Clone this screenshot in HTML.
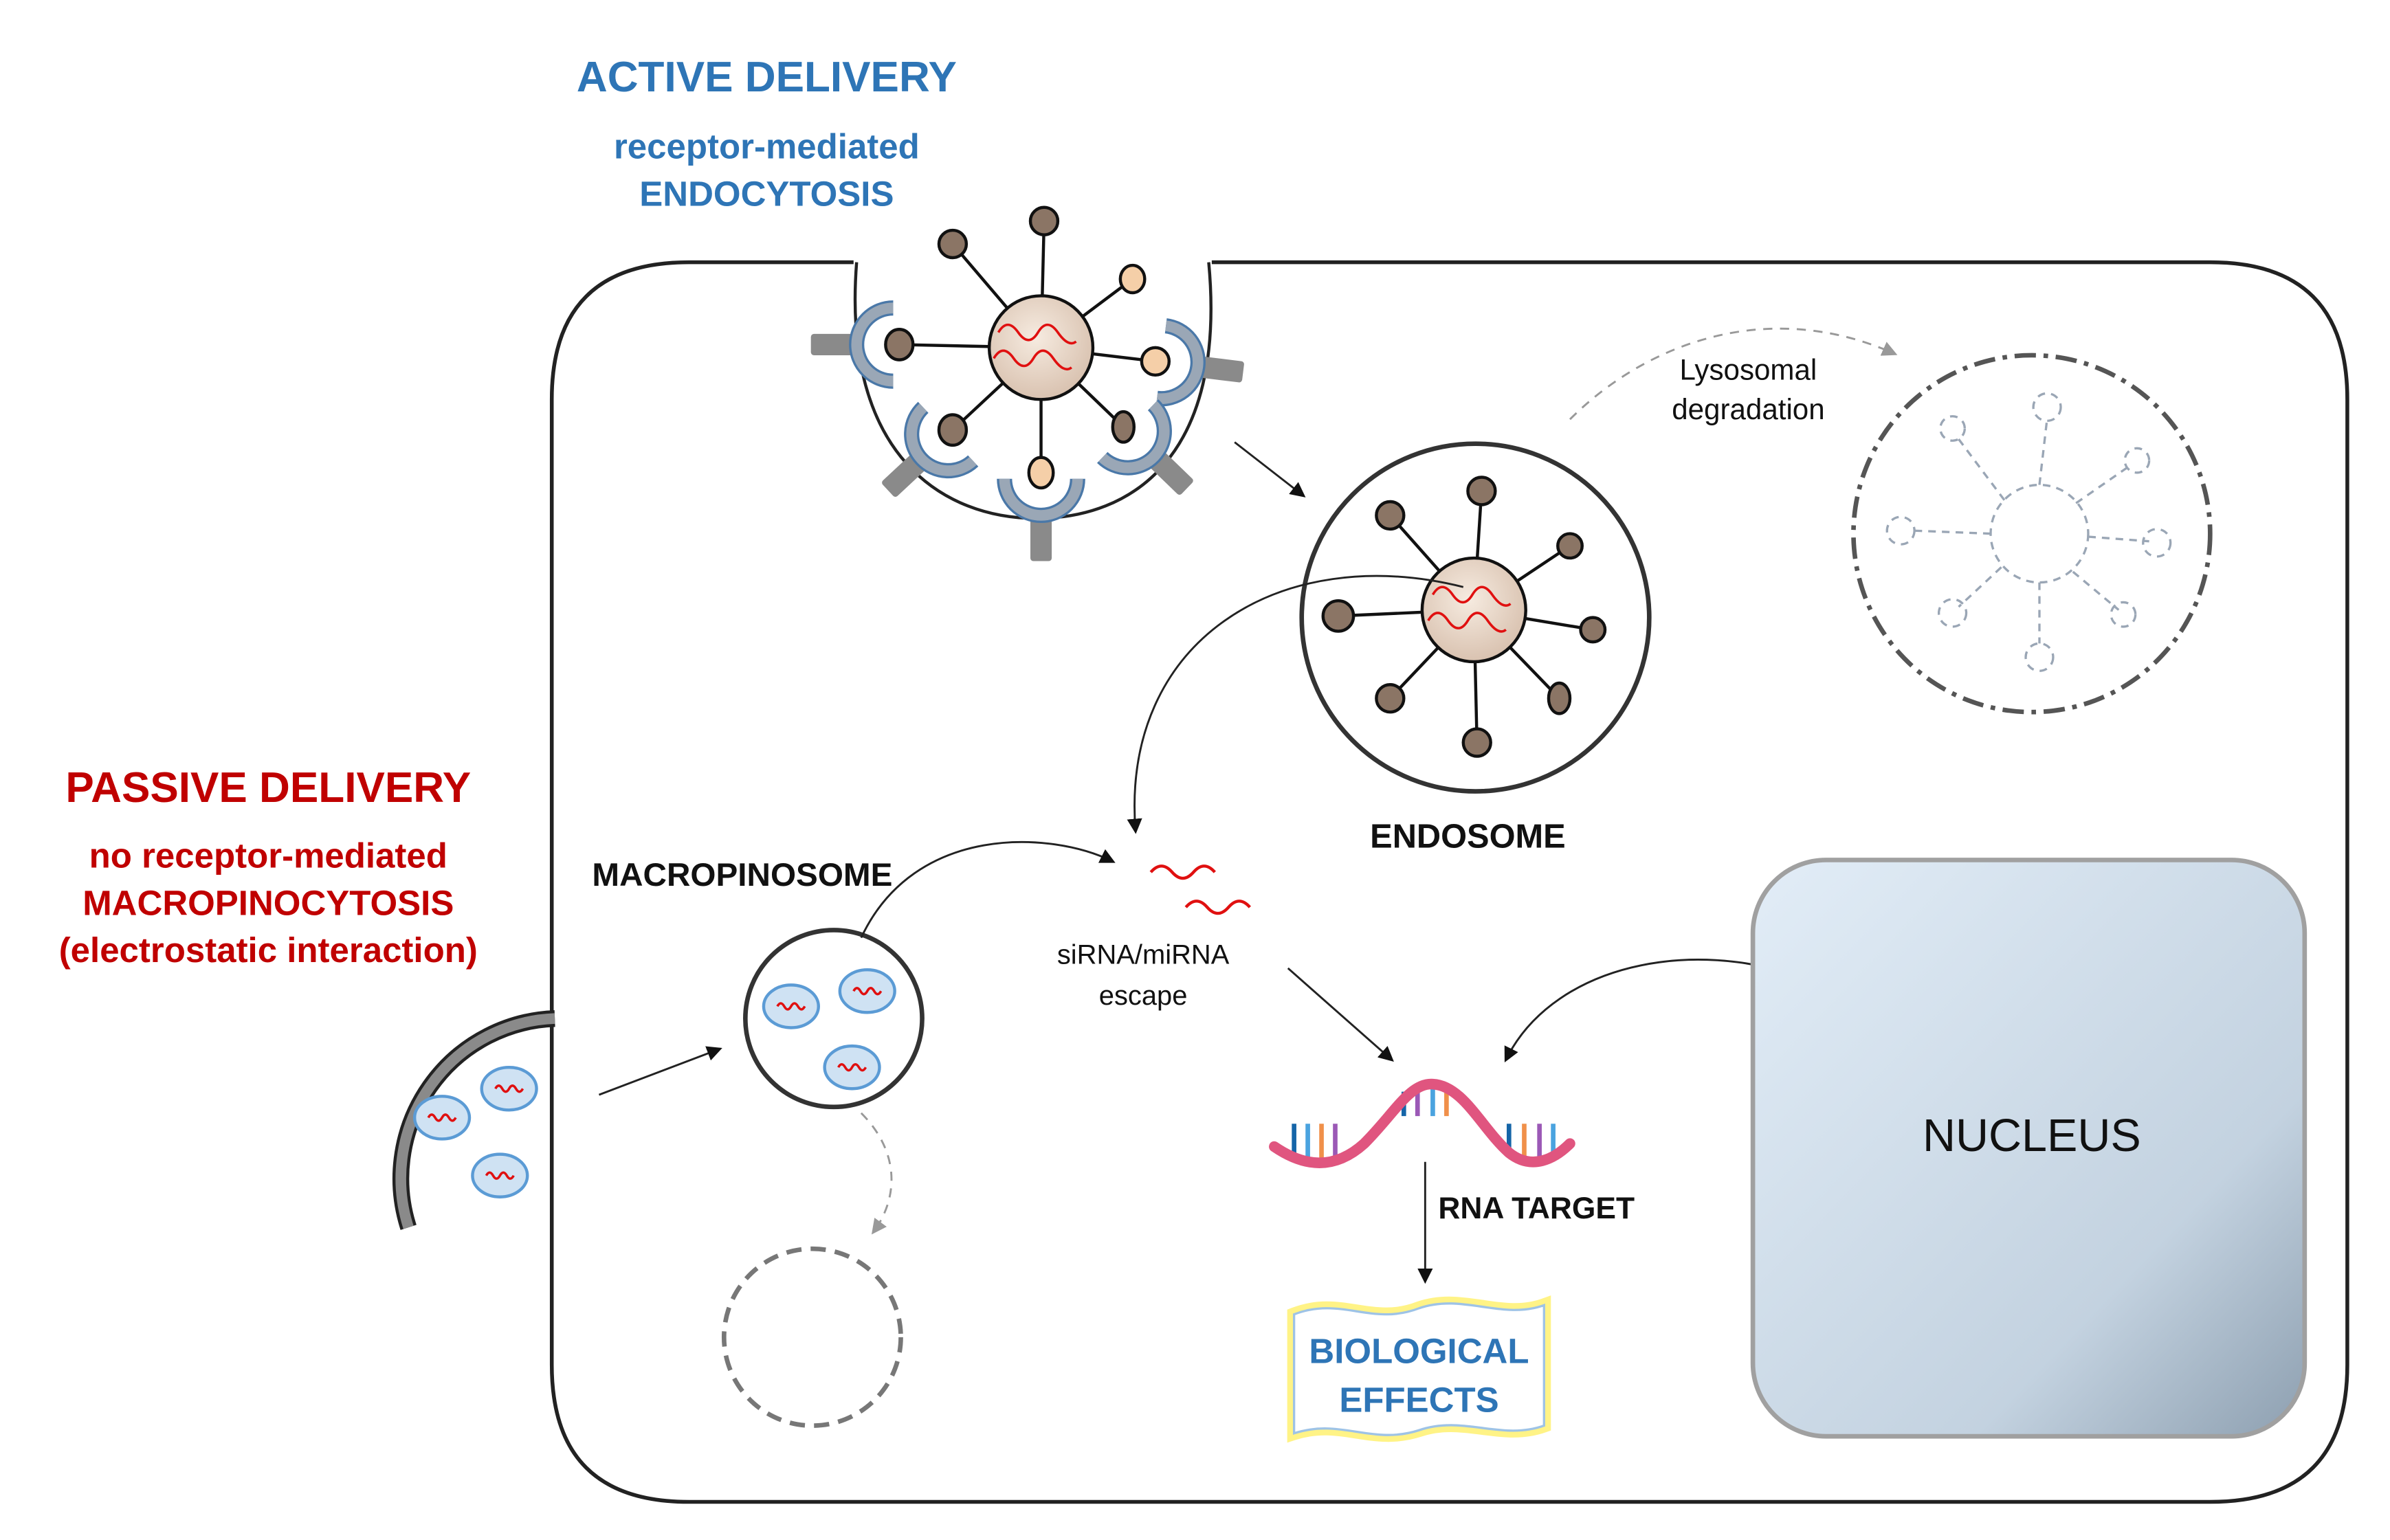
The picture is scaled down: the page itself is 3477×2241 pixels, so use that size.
<!DOCTYPE html>
<html><head><meta charset="utf-8"><style>
html,body{margin:0;padding:0;background:#fff;}
svg{display:block;}
text{font-family:"Liberation Sans",Arial,sans-serif;}
</style></head><body>
<svg width="3477" height="2241" viewBox="0 0 1568 1010" preserveAspectRatio="none" xmlns="http://www.w3.org/2000/svg">
<defs>
<radialGradient id="np" cx="45%" cy="40%" r="60%"><stop offset="0" stop-color="#f6ebe0"/><stop offset="1" stop-color="#d9c2b0"/></radialGradient>
<linearGradient id="nuc" x1="0" y1="0" x2="1" y2="1"><stop offset="0" stop-color="#e2edf7"/><stop offset="0.7" stop-color="#c3d2e0"/><stop offset="1" stop-color="#8d9fb0"/></linearGradient>
<marker id="ah" markerWidth="10" markerHeight="10" refX="8" refY="5" orient="auto" markerUnits="userSpaceOnUse"><path d="M0,0 L10,5 L0,10 z" fill="#111"/></marker>
<marker id="ahg" markerWidth="10" markerHeight="10" refX="8" refY="5" orient="auto" markerUnits="userSpaceOnUse"><path d="M0,0 L10,5 L0,10 z" fill="#999"/></marker>
<g id="rv"><path d="M-9,0 q2.2,-4 4.5,0 t4.5,0 t4.5,0 t4.5,0" fill="none" stroke="#e01010" stroke-width="1.6"/></g>
<g id="ves"><ellipse cx="0" cy="0" rx="18" ry="14" fill="#cfe2f3" stroke="#5b9bd5" stroke-width="2"/><use href="#rv"/></g>
<g id="rcp">
<rect x="-58" y="-7" width="34" height="14" rx="2" fill="#8a8a8a"/>
<path d="M-4,-24 A24,24 0 0 0 -4,24" fill="none" stroke="#4a78a8" stroke-width="10"/>
<path d="M-4,-24 A24,24 0 0 0 -4,24" fill="none" stroke="#9aa7b6" stroke-width="7"/>
</g>
</defs>

<!-- cell membrane -->
<path d="M560,172 L452,172 Q362,172 362,262 L362,895 Q362,985 452,985 L1450,985 Q1540,985 1540,895 L1540,262 Q1540,172 1450,172 L795,172" fill="none" stroke="#222" stroke-width="2.5"/>
<path d="M562,172 C552,300 620,340 680,340 C742,340 805,300 793,172" fill="none" stroke="#222" stroke-width="2"/>

<text x="503" y="60" text-anchor="middle" font-size="28" font-weight="bold" fill="#2e75b6">ACTIVE DELIVERY</text>
<text x="503" y="104" text-anchor="middle" font-size="23" font-weight="bold" fill="#2e75b6">receptor-mediated</text>
<text x="503" y="135" text-anchor="middle" font-size="23" font-weight="bold" fill="#2e75b6">ENDOCYTOSIS</text>

<!-- receptors -->
<use href="#rcp" transform="translate(590,226)"/>
<use href="#rcp" transform="translate(758,237) rotate(187)"/>
<use href="#rcp" transform="translate(625,282) rotate(-43)"/>
<use href="#rcp" transform="translate(683,310) rotate(-90)"/>
<use href="#rcp" transform="translate(737,280) rotate(-136)"/>

<g stroke="#111" stroke-width="2">
<line x1="683" y1="228" x2="685" y2="145"/><line x1="683" y1="228" x2="625" y2="160"/><line x1="683" y1="228" x2="743" y2="183"/><line x1="683" y1="228" x2="590" y2="226"/><line x1="683" y1="228" x2="758" y2="237"/><line x1="683" y1="228" x2="625" y2="282"/><line x1="683" y1="228" x2="683" y2="310"/><line x1="683" y1="228" x2="737" y2="280"/>
<ellipse cx="685" cy="145" rx="9" ry="9" fill="#8b7565"/><ellipse cx="625" cy="160" rx="9" ry="9" fill="#8b7565"/><ellipse cx="743" cy="183" rx="8" ry="9" fill="#f5cfa8"/><ellipse cx="590" cy="226" rx="9" ry="10" fill="#8b7565"/><ellipse cx="758" cy="237" rx="9" ry="9" fill="#f5cfa8"/><ellipse cx="625" cy="282" rx="9" ry="10" fill="#8b7565"/><ellipse cx="683" cy="310" rx="8" ry="10" fill="#f5cfa8"/><ellipse cx="737" cy="280" rx="7" ry="10" fill="#8b7565"/>
<circle cx="683" cy="228" r="34" fill="url(#np)"/>
</g>
<path d="M655,218 q6,-10 13,0 t13,0 t13,0 t12,6 M652,235 q6,-10 13,0 t13,0 t13,0 t12,6" fill="none" stroke="#e01010" stroke-width="1.6"/>

<line x1="810" y1="290" x2="855" y2="325" stroke="#222" stroke-width="1.3" marker-end="url(#ah)"/>

<!-- endosome -->
<circle cx="968" cy="405" r="114" fill="#fff" stroke="#333" stroke-width="3"/>
<g stroke="#111" stroke-width="2">
<line x1="967" y1="400" x2="972" y2="322"/><line x1="967" y1="400" x2="1030" y2="358"/><line x1="967" y1="400" x2="1045" y2="413"/><line x1="967" y1="400" x2="1023" y2="458"/><line x1="967" y1="400" x2="969" y2="487"/><line x1="967" y1="400" x2="912" y2="458"/><line x1="967" y1="400" x2="878" y2="404"/><line x1="967" y1="400" x2="912" y2="338"/>
<g fill="#8b7565"><circle cx="972" cy="322" r="9"/><circle cx="1030" cy="358" r="8"/><circle cx="1045" cy="413" r="8"/><ellipse cx="1023" cy="458" rx="7" ry="10"/><circle cx="969" cy="487" r="9"/><circle cx="912" cy="458" r="9"/><circle cx="878" cy="404" r="10"/><circle cx="912" cy="338" r="9"/></g>
<circle cx="967" cy="400" r="34" fill="url(#np)"/>
</g>
<path d="M940,390 q6,-10 13,0 t13,0 t13,0 t12,6 M937,407 q6,-10 13,0 t13,0 t13,0 t12,6" fill="none" stroke="#e01010" stroke-width="1.6"/>
<text x="963" y="556" text-anchor="middle" font-size="22" font-weight="bold" fill="#111">ENDOSOME</text>

<!-- lysosomal -->
<path d="M1030,275 C1080,225 1160,195 1243,232" fill="none" stroke="#999" stroke-width="1.3" stroke-dasharray="6,5" marker-end="url(#ahg)"/>
<text x="1147" y="249" text-anchor="middle" font-size="19" fill="#111">Lysosomal</text>
<text x="1147" y="275" text-anchor="middle" font-size="19" fill="#111">degradation</text>
<circle cx="1333" cy="350" r="117" fill="none" stroke="#555" stroke-width="3" stroke-dasharray="14,5,3,5"/>
<g stroke="#9aa6b5" stroke-width="1.5" fill="none" stroke-dasharray="5,4">
<circle cx="1338" cy="350" r="32"/>
<line x1="1338" y1="318" x2="1343" y2="275"/><line x1="1362" y1="330" x2="1398" y2="305"/><line x1="1370" y1="352" x2="1410" y2="355"/><line x1="1360" y1="375" x2="1390" y2="400"/><line x1="1338" y1="382" x2="1338" y2="422"/><line x1="1313" y1="372" x2="1285" y2="398"/><line x1="1306" y1="350" x2="1255" y2="348"/><line x1="1315" y1="328" x2="1285" y2="288"/>
<circle cx="1343" cy="267" r="9"/><circle cx="1402" cy="302" r="8"/><circle cx="1415" cy="356" r="9"/><circle cx="1393" cy="403" r="8"/><circle cx="1338" cy="431" r="9"/><circle cx="1281" cy="402" r="9"/><circle cx="1247" cy="348" r="9"/><circle cx="1281" cy="281" r="8"/>
</g>

<path d="M960,385 C840,355 735,420 745,545" fill="none" stroke="#222" stroke-width="1.3" marker-end="url(#ah)"/>
<path d="M755,572 q7,-8 14,0 t14,0 t14,0 M778,595 q7,-8 14,0 t14,0 t14,0" fill="none" stroke="#e01010" stroke-width="2"/>
<text x="750" y="632" text-anchor="middle" font-size="18" fill="#111">siRNA/miRNA</text>
<text x="750" y="659" text-anchor="middle" font-size="18" fill="#111">escape</text>

<!-- passive -->
<text x="176" y="526" text-anchor="middle" font-size="28" font-weight="bold" fill="#c00000">PASSIVE DELIVERY</text>
<text x="176" y="569" text-anchor="middle" font-size="23" font-weight="bold" fill="#c00000">no receptor-mediated</text>
<text x="176" y="600" text-anchor="middle" font-size="23" font-weight="bold" fill="#c00000">MACROPINOCYTOSIS</text>
<text x="176" y="631" text-anchor="middle" font-size="23" font-weight="bold" fill="#c00000">(electrostatic interaction)</text>

<path d="M364,668 A105,105 0 0 0 268,805" fill="none" stroke="#222" stroke-width="11"/>
<path d="M364,668 A105,105 0 0 0 268,805" fill="none" stroke="#8a8a8a" stroke-width="7"/>
<use href="#ves" x="290" y="733"/><use href="#ves" x="334" y="714"/><use href="#ves" x="328" y="771"/>
<line x1="393" y1="718" x2="472" y2="688" stroke="#222" stroke-width="1.3" marker-end="url(#ah)"/>

<text x="487" y="581" text-anchor="middle" font-size="21.5" font-weight="bold" fill="#111">MACROPINOSOME</text>
<circle cx="547" cy="668" r="58" fill="#fff" stroke="#333" stroke-width="3"/>
<use href="#ves" x="519" y="660"/><use href="#ves" x="569" y="650"/><use href="#ves" x="559" y="700"/>
<path d="M565,615 C600,540 690,545 730,565" fill="none" stroke="#222" stroke-width="1.3" marker-end="url(#ah)"/>
<path d="M565,730 C590,755 590,785 573,808" fill="none" stroke="#999" stroke-width="1.3" stroke-dasharray="6,5" marker-end="url(#ahg)"/>
<circle cx="533" cy="877" r="58" fill="none" stroke="#777" stroke-width="3" stroke-dasharray="10,6"/>

<line x1="845" y1="635" x2="913" y2="695" stroke="#222" stroke-width="1.3" marker-end="url(#ah)"/>
<path d="M1205,650 C1120,610 1020,630 988,695" fill="none" stroke="#222" stroke-width="1.3" marker-end="url(#ah)"/>

<rect x="1150" y="564" width="362" height="378" rx="48" fill="url(#nuc)" stroke="#a0a0a0" stroke-width="3"/>
<text x="1333" y="755" text-anchor="middle" font-size="30" fill="#111">NUCLEUS</text>

<!-- RNA target -->
<g stroke-width="3">
<line x1="849" y1="737" x2="849" y2="760" stroke="#1565a8"/><line x1="858" y1="737" x2="858" y2="762" stroke="#4aa3df"/><line x1="867" y1="737" x2="867" y2="762" stroke="#f0904a"/><line x1="876" y1="737" x2="876" y2="760" stroke="#9b59b6"/>
<line x1="921" y1="716" x2="921" y2="732" stroke="#1565a8"/><line x1="930" y1="714" x2="930" y2="732" stroke="#9b59b6"/><line x1="940" y1="714" x2="940" y2="732" stroke="#4aa3df"/><line x1="949" y1="716" x2="949" y2="732" stroke="#f0904a"/>
<line x1="990" y1="737" x2="990" y2="758" stroke="#1565a8"/><line x1="1000" y1="737" x2="1000" y2="762" stroke="#f0904a"/><line x1="1010" y1="737" x2="1010" y2="762" stroke="#9b59b6"/><line x1="1019" y1="737" x2="1019" y2="760" stroke="#4aa3df"/>
</g>
<path d="M836,752 C855,765 875,768 895,750 C915,730 925,710 940,711 C960,712 972,740 990,756 C1005,768 1020,760 1030,750" fill="none" stroke="#e0557f" stroke-width="7" stroke-linecap="round"/>
<line x1="935" y1="762" x2="935" y2="840" stroke="#222" stroke-width="1.3" marker-end="url(#ah)"/>
<text x="1008" y="799" text-anchor="middle" font-size="20" font-weight="bold" fill="#111">RNA TARGET</text>

<path d="M849,862 C880,850 900,870 931,858 C960,848 985,866 1013,856 L1013,935 C985,945 960,928 931,938 C900,948 880,930 849,940 z" fill="#fff" stroke="#fff27a" stroke-width="9" opacity="0.9"/>
<path d="M849,862 C880,850 900,870 931,858 C960,848 985,866 1013,856 L1013,935 C985,945 960,928 931,938 C900,948 880,930 849,940 z" fill="#fff" stroke="#9ec3e6" stroke-width="1.5"/>
<text x="931" y="894" text-anchor="middle" font-size="23" font-weight="bold" fill="#2e75b6">BIOLOGICAL</text>
<text x="931" y="926" text-anchor="middle" font-size="23" font-weight="bold" fill="#2e75b6">EFFECTS</text>
</svg>
</body></html>
